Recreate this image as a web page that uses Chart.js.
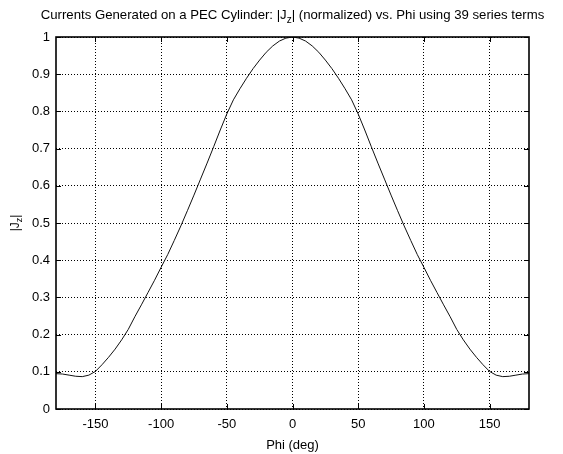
<!DOCTYPE html>
<html>
<head>
<meta charset="utf-8">
<script src="https://cdn.jsdelivr.net/npm/chart.js@4/dist/chart.umd.min.js"></script>
<style>
  html, body { margin: 0; padding: 0; background: #fff; }
  #wrap { width: 563px; height: 454px; position: relative; }
</style>
</head>
<body>
<div id="wrap"><canvas id="chart"></canvas></div>
<script>
const phi = [
  -180, -175, -170, -165, -160, -155, -150, -145, -140, -135, -130, -125, -120,
  -115, -110, -105, -100, -95, -90, -85, -80, -75, -70, -65, -60, -55, -50,
  -45, -40, -35, -30, -25, -20, -15, -10, -5, 0, 5, 10, 15, 20, 25, 30,
  35, 40, 45, 50, 55, 60, 65, 70, 75, 80, 85, 90, 95, 100, 105, 110,
  115, 120, 125, 130, 135, 140, 145, 150, 155, 160, 165, 170, 175, 180
];
const jz = [
  0.095, 0.094, 0.091, 0.088, 0.087, 0.091, 0.101, 0.119, 0.139, 0.161, 0.186, 0.214, 0.248,
  0.280, 0.313, 0.346, 0.381, 0.415, 0.453, 0.492, 0.533, 0.575, 0.618, 0.661, 0.705, 0.750, 0.793,
  0.831, 0.861, 0.889, 0.915, 0.938, 0.959, 0.976, 0.989, 0.997, 1.000, 0.997, 0.989, 0.976, 0.959, 0.938, 0.915,
  0.889, 0.861, 0.831, 0.793, 0.750, 0.705, 0.661, 0.618, 0.575, 0.533, 0.492, 0.453, 0.415, 0.381, 0.346, 0.313,
  0.280, 0.248, 0.214, 0.186, 0.161, 0.139, 0.119, 0.101, 0.091, 0.087, 0.088, 0.091, 0.094, 0.095
];
const xTicks = [-150, -100, -50, 0, 50, 100, 150];
const yTicks = [0, 0.1, 0.2, 0.3, 0.4, 0.5, 0.6, 0.7, 0.8, 0.9, 1];

const FONT = "'Liberation Sans', Arial, sans-serif";

// draws a string made of [text, font, dy] pieces, centred on x
const drawPieces = (ctx, pieces, x, y) => {
  let w = 0;
  pieces.forEach(p => { ctx.font = p[1]; w += ctx.measureText(p[0]).width; });
  let cur = x - w / 2;
  ctx.textAlign = "left";
  pieces.forEach(p => {
    ctx.font = p[1];
    ctx.fillText(p[0], cur, y + p[2]);
    cur += ctx.measureText(p[0]).width;
  });
};

// title, axis labels (with subscripts) and the axes box
const decor = {
  id: "decor",
  afterDraw(chart) {
    const { ctx, chartArea: a } = chart;
    const xs = chart.scales.x, ys = chart.scales.y;
    ctx.save();
    ctx.strokeStyle = "#000";

    // little inward ticks, matlab style
    ctx.lineWidth = 1;
    ctx.beginPath();
    xTicks.forEach(v => {
      const px = Math.round(xs.getPixelForValue(v)) + 0.5;
      ctx.moveTo(px, a.bottom); ctx.lineTo(px, a.bottom - 5);
      ctx.moveTo(px, a.top); ctx.lineTo(px, a.top + 5);
    });
    yTicks.forEach(v => {
      const py = Math.round(ys.getPixelForValue(v)) + 0.5;
      ctx.moveTo(a.left, py); ctx.lineTo(a.left + 5, py);
      ctx.moveTo(a.right, py); ctx.lineTo(a.right - 5, py);
    });
    ctx.stroke();

    ctx.lineWidth = 1.6;
    ctx.strokeRect(a.left, a.top, a.right - a.left, a.bottom - a.top);

    ctx.fillStyle = "#000";
    ctx.textBaseline = "alphabetic";
    const cx = (a.left + a.right) / 2;

    drawPieces(ctx, [
      ["Currents Generated on a PEC Cylinder: |J", "13.2px " + FONT, 0],
      ["z", "10px " + FONT, 4],
      ["| (normalized) vs. Phi using 39 series terms", "13.2px " + FONT, 0]
    ], cx, 19);

    ctx.font = "13px " + FONT;
    ctx.textAlign = "center";
    ctx.fillText("Phi (deg)", cx, 449);

    ctx.translate(19, (a.top + a.bottom) / 2);
    ctx.rotate(-Math.PI / 2);
    drawPieces(ctx, [
      ["|J", "12px " + FONT, 0],
      ["z", "9px " + FONT, 3],
      ["|", "12px " + FONT, 0]
    ], 0, 0);
    ctx.restore();
  }
};

new Chart(document.getElementById("chart"), {
  type: "line",
  data: {
    datasets: [{
      data: phi.map((p, i) => ({ x: p, y: jz[i] })),
      borderColor: "#111",
      borderWidth: 1,
      pointRadius: 0,
      tension: 0
    }]
  },
  options: {
    responsive: true,
    maintainAspectRatio: false,
    animation: false,
    layout: { padding: { left: 0, right: 34, top: 37, bottom: 0 } },
    plugins: { legend: { display: false }, tooltip: { enabled: false } },
    scales: {
      x: {
        type: "linear",
        min: -180,
        max: 180,
        afterBuildTicks: s => { s.ticks = xTicks.map(v => ({ value: v })); },
        afterFit: s => { s.height = 45; },
        border: { display: false, dash: [1, 2] },
        grid: { color: "#000", lineWidth: 1, drawTicks: false },
        ticks: { padding: 8, color: "#000", font: { family: FONT, size: 13 }, maxRotation: 0 }
      },
      y: {
        min: 0,
        max: 1,
        afterBuildTicks: s => { s.ticks = yTicks.map(v => ({ value: v })); },
        afterFit: s => { s.width = 56; },
        border: { display: false, dash: [1, 2] },
        grid: { color: "#000", lineWidth: 1, drawTicks: false },
        ticks: { padding: 6, color: "#000", font: { family: FONT, size: 13 }, callback: v => String(+v.toFixed(1)) }
      }
    }
  },
  plugins: [decor]
});
</script>
</body>
</html>
